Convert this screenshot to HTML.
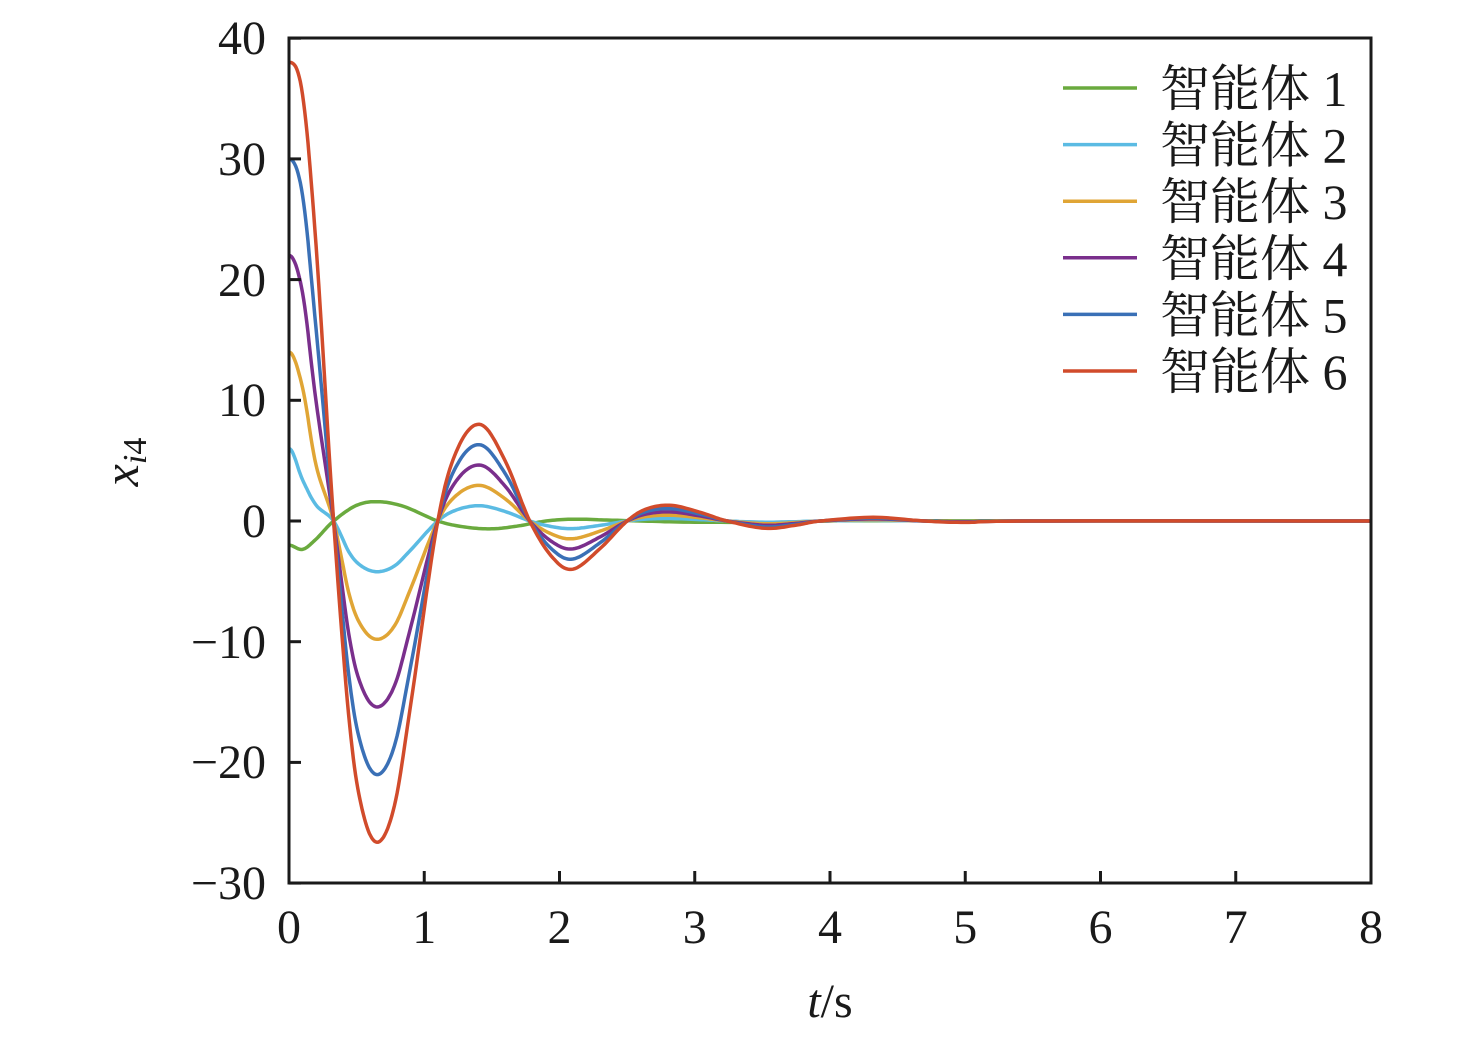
<!DOCTYPE html>
<html><head><meta charset="utf-8"><style>
html,body{margin:0;padding:0;background:#fff;}
.lat{font-family:"Liberation Serif","Times New Roman",Times,serif;}
.cjk{font-family:"Liberation Serif","Noto Serif CJK SC",serif;}
</style></head><body>
<svg id="s" width="1476" height="1043" viewBox="0 0 1476 1043" xmlns="http://www.w3.org/2000/svg">
<defs><clipPath id="cp"><rect x="289" y="30" width="1082" height="853"/></clipPath></defs>
<rect x="0" y="0" width="1476" height="1043" fill="#fff"/>
<g id="curves" clip-path="url(#cp)"></g>
<rect x="289" y="38" width="1082" height="845" fill="none" stroke="#1a1a1a" stroke-width="3"/>
<g id="ticks" stroke="#1a1a1a" stroke-width="3"></g>
<g font-size="48" text-anchor="end" fill="#1a1a1a" class="lat">
<text x="266" y="54">40</text>
<text x="266" y="175">30</text>
<text x="266" y="296">20</text>
<text x="266" y="416">10</text>
<text x="266" y="537">0</text>
<text x="266" y="658">−10</text>
<text x="266" y="778">−20</text>
<text x="266" y="899">−30</text>
</g>
<g font-size="48" text-anchor="middle" id="xl" fill="#1a1a1a" class="lat"></g>
<text x="830" y="1017" font-size="48" text-anchor="middle" fill="#1a1a1a" class="lat"><tspan font-style="italic">t</tspan>/s</text>
<text transform="translate(138,462) rotate(-90)" font-size="50" text-anchor="middle" fill="#1a1a1a" class="lat"><tspan font-style="italic">x</tspan><tspan font-style="italic" font-size="34" dy="8">i</tspan><tspan font-size="34">4</tspan></text>
<g id="leg" font-size="50" fill="#1a1a1a" class="cjk"></g>
</svg>
<script>
var X=function(t){return 289+t*135.25;}, Y=function(v){return 521-v*12.07;};
var tk=document.getElementById('ticks'),xl=document.getElementById('xl'),ns='http://www.w3.org/2000/svg';
function el(n,a,p){var e=document.createElementNS(ns,n);for(var k in a)e.setAttribute(k,a[k]);p.appendChild(e);return e;}
for(var i=0;i<=8;i++){el('line',{x1:X(i),x2:X(i),y1:883,y2:871},tk);var t=el('text',{x:X(i),y:943},xl);t.textContent=i;}
for(var v=-30;v<=40;v+=10){el('line',{x1:289,x2:301,y1:Y(v),y2:Y(v)},tk);}
var base=[[0.33,0],[0.45,-0.45],[0.55,-0.64],[0.66,-0.70],[0.78,-0.62],[0.9,-0.4],[1.1,0],[1.25,0.16],[1.42,0.21],[1.6,0.13],[1.78,0],[1.95,-0.08],[2.1,-0.105],[2.3,-0.06],[2.5,0],[2.65,0.027],[2.83,0.034],[3.05,0.018],[3.24,0],[3.52,-0.016],[3.75,-0.009],[3.93,0],[4.32,0.008],[4.7,0],[5.0,-0.003],[5.5,0],[8,0]];
var agents=[
 {c:6,col:'#5bbbe3',a:0.57,b:0.22},
 {c:14,col:'#e0a535',a:0.79,b:0.33},
 {c:22,col:'#7a2f8c',a:0.86,b:0.45},
 {c:30,col:'#3a70b6',a:0.9,b:0.53},
 {c:38,col:'#d14b2b',a:0.93,b:0.6}];
var a1=[[-0.1,-2.35],[0,-2],[0.1,-2.35],[0.2,-1.5],[0.33,0],[0.5,1.3],[0.66,1.6],[0.85,1.2],[1.1,0],[1.3,-0.5],[1.5,-0.65],[1.7,-0.4],[1.9,0],[2.1,0.15],[2.35,0.08],[2.6,0],[3.0,-0.1],[3.6,-0.1],[4.0,0],[4.5,0.02],[8,0]];
function path(pts){
 var d='M'+X(pts[0][0]).toFixed(1)+','+Y(pts[0][1]).toFixed(1);
 for(var i=0;i<pts.length-1;i++){
  var p0=pts[Math.max(0,i-1)],p1=pts[i],p2=pts[i+1],p3=pts[Math.min(pts.length-1,i+2)];
  for(var s=1;s<=12;s++){var u=s/12,u2=u*u,u3=u2*u;
   var f=function(a,b,c,e){return 0.5*((2*b)+(-a+c)*u+(2*a-5*b+4*c-e)*u2+(-a+3*b-3*c+e)*u3);};
   var t=f(p0[0],p1[0],p2[0],p3[0]),v=f(p0[1],p1[1],p2[1],p3[1]);
   d+='L'+X(t).toFixed(1)+','+Y(v).toFixed(1);}
 }
 return d;}
var g=document.getElementById('curves');
el('path',{d:path(a1),fill:'none',stroke:'#6aaa3e','stroke-width':3.5},g);
agents.forEach(function(A){
 var pts=[[-0.1,A.c*A.a],[0,A.c],[0.1,A.c*A.a],[0.2,A.c*A.b]].concat(base.map(function(p){return [p[0],p[1]*A.c];}));
 el('path',{d:path(pts),fill:'none',stroke:A.col,'stroke-width':3.5},g);
});
var cols=['#6aaa3e','#5bbbe3','#e0a535','#7a2f8c','#3a70b6','#d14b2b'];
var lg=document.getElementById('leg');
for(var i=0;i<6;i++){var y=88+i*56.6;
 el('line',{x1:1063,x2:1137,y1:y,y2:y,stroke:cols[i],'stroke-width':3.5},lg);
 var t=el('text',{x:1160,y:y+18},lg);t.textContent='智能体 '+(i+1);}
</script>
</body></html>
